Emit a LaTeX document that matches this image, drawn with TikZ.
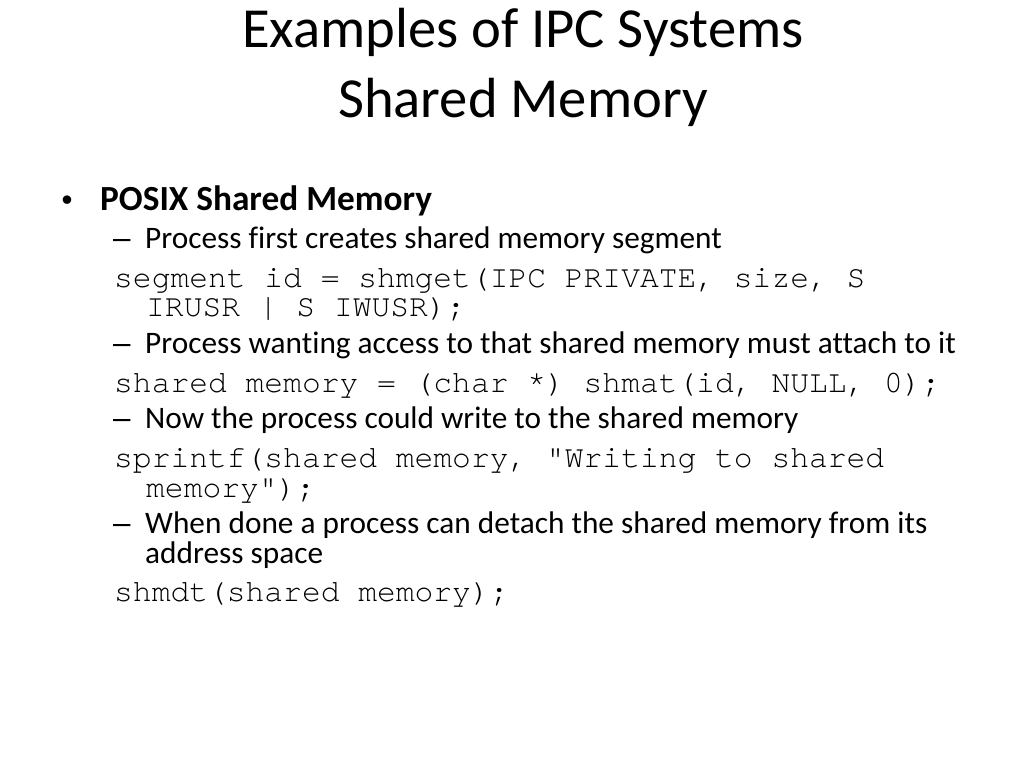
\documentclass[tikz,border=0pt]{standalone}
\usepackage{fontspec}
\setmainfont{Carlito}[Ligatures={TeX,NoCommon}]
\newfontfamily\codefont{TeX Gyre Cursor}
\newfontfamily\markfont{Liberation Sans}
\usetikzlibrary{positioning}

\tikzset{
    titletext/.style={inner sep=0, anchor=base, font=\fontsize{56.6}{64}\selectfont},
    headtext/.style={inner sep=0, anchor=base west, font=\fontsize{35.3}{40}\selectfont\bfseries},
    subtext/.style={inner sep=0, anchor=base west, font=\fontsize{31.3}{36}\selectfont},
    marktext/.style={inner sep=0, anchor=base west, font=\fontsize{31.3}{36}\markfont},
    codetext/.style={inner sep=0, anchor=base west, font=\fontsize{31.3}{36}\codefont}
}

\begin{document}
\begin{tikzpicture}[x=1pt, y=-1pt]
    \useasboundingbox[fill=white] (0,0) rectangle (1024,768);

    % title
    \node (title1) [titletext] at (523,48) {Examples of IPC Systems};
    \node (title2) [titletext] at (523,117) {Shared Memory};

    % bullet
    \node (dot) [marktext, anchor=base] at (67,210) {•};
    \node (posix) [headtext] at (100,210) {POSIX Shared Memory};

    \node (dash1) [marktext] at (113,248) {–};
    \node (create) [subtext] at (145,248) {Process first creates shared memory segment};
    \node (code1) [codetext] at (114,287) {segment id = shmget(IPC PRIVATE, size, S};
    \node (code1b) [codetext] at (146,316) {IRUSR | S IWUSR);};

    \node (dash2) [marktext] at (113,353) {–};
    \node (attach) [subtext] at (145,353) {Process wanting access to that shared memory must attach to it};
    \node (code2) [codetext] at (114,392) {shared memory = (char *) shmat(id, NULL, 0);};

    \node (dash3) [marktext] at (113,428) {–};
    \node (write) [subtext] at (145,428) {Now the process could write to the shared memory};
    \node (code3) [codetext] at (114,467) {sprintf(shared memory, "Writing to shared};
    \node (code3b) [codetext] at (146,497) {memory");};

    \node (dash4) [marktext] at (113,533) {–};
    \node (detach) [subtext] at (145,533) {When done a process can detach the shared memory from its};
    \node (detachb) [subtext] at (145,563) {address space};
    \node (code4) [codetext] at (114,601) {shmdt(shared memory);};
\end{tikzpicture}
\end{document}
